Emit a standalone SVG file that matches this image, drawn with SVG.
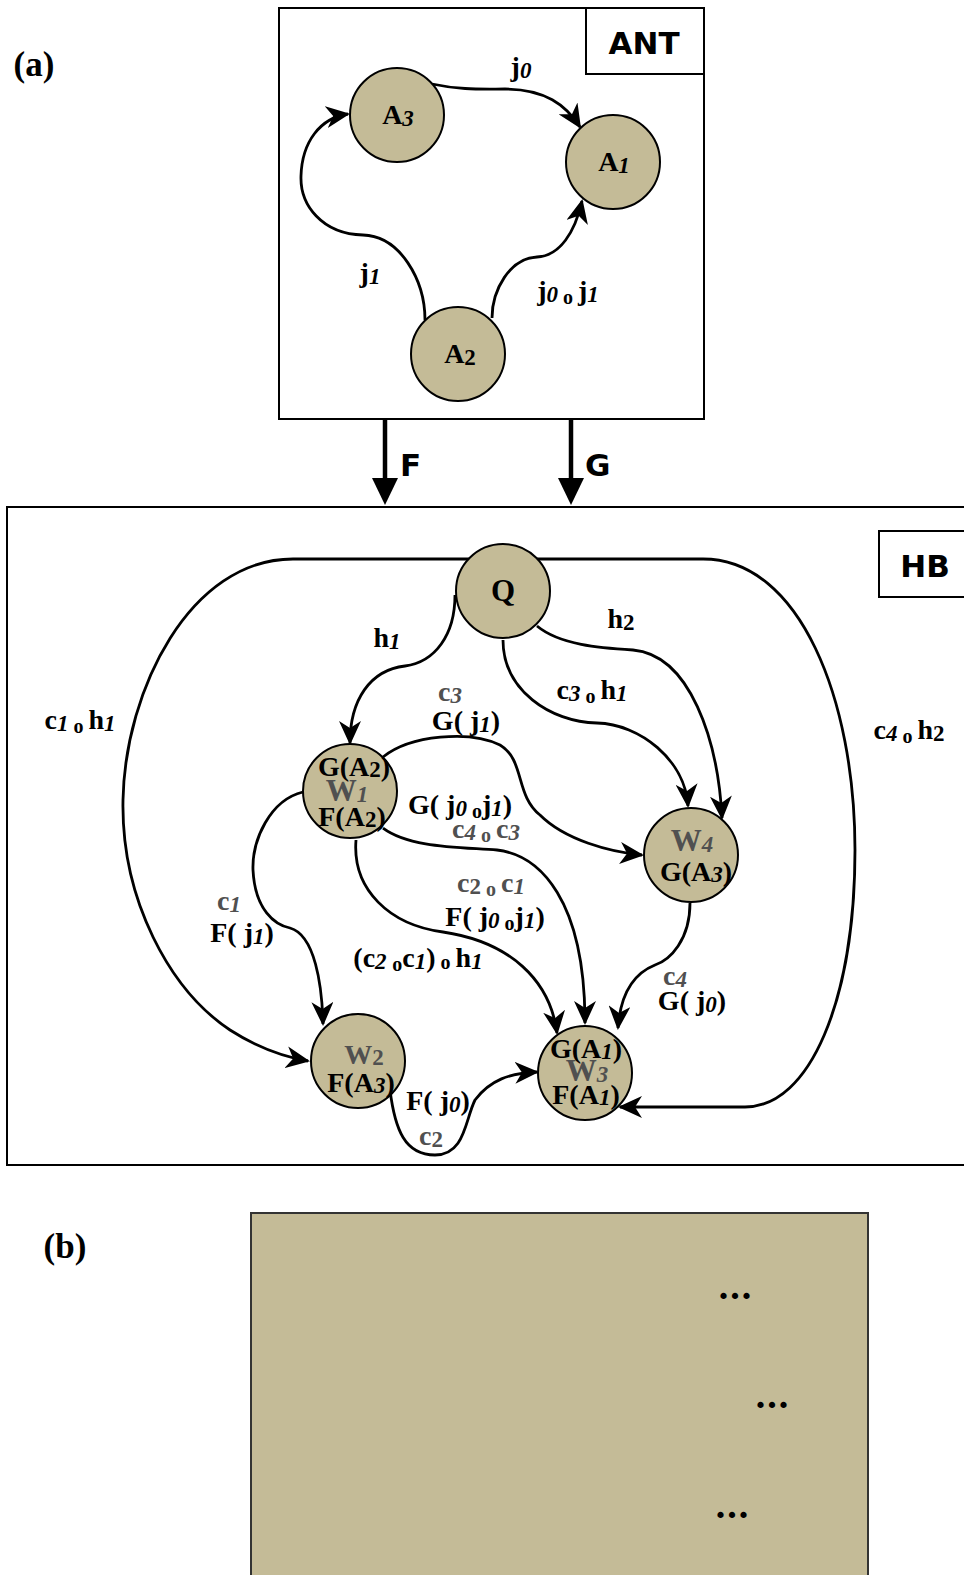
<svg xmlns="http://www.w3.org/2000/svg" width="964" height="1575" viewBox="0 0 964 1575">
<defs>
<style>
.t{font-family:"Liberation Serif",serif;font-weight:bold;font-size:28px;fill:#000}
.g{fill:#505050}
.s{font-style:italic;font-size:23px}
.u{font-size:23px}
.o{font-size:20px;font-weight:bold}
.h{font-family:"DejaVu Sans","Liberation Sans",sans-serif;font-weight:bold;font-size:31px;fill:#000}
.n{fill:#c4bb97;stroke:#000;stroke-width:2}
.w{font-size:31px}
.big{font-size:35px}
.dots{font-size:38px;letter-spacing:2px}
.e{fill:none;stroke:#000;stroke-width:2.8;marker-end:url(#ah)}
.box{fill:#fff;stroke:#000;stroke-width:2}
</style>
<marker id="ah" markerUnits="userSpaceOnUse" markerWidth="24" markerHeight="22" viewBox="0 0 24 22" refX="22" refY="11" orient="auto">
<path d="M0,0 L24,11 L0,22 L7,11 z" fill="#000"/>
</marker>
</defs>
<rect width="964" height="1575" fill="#fff"/>

<!-- panel labels -->
<text class="t big" x="34" y="76" text-anchor="middle">(a)</text>
<text class="t big" x="65" y="1258" text-anchor="middle">(b)</text>

<!-- (a) frame -->
<g id="ant-frame">
<rect class="box" x="279" y="8" width="425" height="411"/>
<rect class="box" x="586" y="8" width="118" height="66"/>
<text class="h" x="644" y="54" text-anchor="middle">ANT</text>
</g>

<!-- F G functors -->
<g id="functors">
<line x1="385" y1="419" x2="385" y2="482" stroke="#000" stroke-width="4.5"/>
<polygon points="372,478 398,478 385,505" fill="#000"/>
<text class="h" x="400" y="476">F</text>
<line x1="571" y1="419" x2="571" y2="482" stroke="#000" stroke-width="4.5"/>
<polygon points="558,478 584,478 571,505" fill="#000"/>
<text class="h" x="585" y="476">G</text>
</g>

<!-- HB frame -->
<g id="hb-frame">
<rect class="box" x="7" y="507" width="965" height="658"/>
<rect class="box" x="879" y="531" width="95" height="66"/>
<text class="h" x="925" y="577" text-anchor="middle">HB</text>
</g>

<g id="connectors">
<!-- (a) -->
<path class="e" d="M432,84 C460,90 480,89 505,89 C545,89 566,105 580,127"/>
<path class="e" d="M425,320 C425,280 400,236 363,235 C322,234 300,205 301,176 C302,142 320,118 348,114"/>
<path class="e" d="M492,318 C492,290 510,258 537,257 C560,256 575,232 582,201"/>
<!-- HB -->
<path class="e" d="M470,559 L293,559 C190,559 125,690 123,800 C121,900 170,990 230,1030 C258,1048 285,1057 308,1061"/>
<path class="e" d="M537,559 L703,559 C800,559 855,700 855,850 C855,1000 810,1107 745,1107 L620,1107"/>
<path class="e" d="M455,595 C455,635 435,662 405,666 C370,670 350,700 350,743"/>
<path class="e" d="M537,626 C560,645 600,648 633,650 C690,655 718,740 722,818"/>
<path class="e" d="M503,640 C503,690 550,722 597,723 C640,724 685,760 688,806"/>
<path class="e" d="M383,757 C410,735 470,730 500,745 C525,760 515,795 540,815 C565,840 610,852 642,855"/>
<path class="e" d="M383,828 C410,848 460,847 497,850 C540,855 585,900 585,1023"/>
<path class="e" d="M356,840 C352,890 390,925 443,932 C510,942 550,980 557,1033"/>
<path class="e" d="M303,792 C270,800 252,840 253,870 C255,910 275,925 290,928 C315,935 322,985 323,1024"/>
<path class="e" d="M390,1090 C395,1130 405,1155 435,1155 C465,1155 465,1120 475,1100 C490,1080 510,1073 537,1072"/>
<path class="e" d="M690,903 C690,940 670,960 655,965 C630,975 620,1000 618,1028"/>
</g>

<g id="edge-labels">
<text class="t" x="521" y="76" text-anchor="middle">j<tspan class="s" dy="2">0</tspan></text>
<text class="t" x="370" y="282" text-anchor="middle">j<tspan class="s" dy="2">1</tspan></text>
<text class="t" x="568" y="300" text-anchor="middle">j<tspan class="s" dy="2">0</tspan><tspan class="o" dy="2"> o </tspan><tspan dy="-4">j</tspan><tspan class="s" dy="2">1</tspan></text>

<text class="t" x="387" y="647" text-anchor="middle">h<tspan class="s" dy="2">1</tspan></text>
<text class="t" x="621" y="628" text-anchor="middle">h<tspan class="u" dy="2">2</tspan></text>
<text class="t" x="592" y="699" text-anchor="middle">c<tspan class="s" dy="2">3</tspan><tspan class="o" dy="2"> o </tspan><tspan dy="-4">h</tspan><tspan class="s" dy="2">1</tspan></text>
<text class="t" x="909" y="739" text-anchor="middle">c<tspan class="s" dy="2">4</tspan><tspan class="o" dy="2"> o </tspan><tspan dy="-4">h</tspan><tspan class="u" dy="2">2</tspan></text>
<text class="t" x="80" y="729" text-anchor="middle">c<tspan class="s" dy="2">1</tspan><tspan class="o" dy="2"> o </tspan><tspan dy="-4">h</tspan><tspan class="s" dy="2">1</tspan></text>

<text class="t g" x="450" y="701" text-anchor="middle">c<tspan class="s" dy="2">3</tspan></text>
<text class="t" x="466" y="730" text-anchor="middle">G( j<tspan class="s" dy="2">1</tspan><tspan dy="-2">)</tspan></text>
<text class="t" x="460" y="814" text-anchor="middle">G( j<tspan class="s" dy="2">0</tspan><tspan class="o" dy="2"> o</tspan><tspan dy="-4">j</tspan><tspan class="s" dy="2">1</tspan><tspan dy="-2">)</tspan></text>
<text class="t g" x="486" y="838" text-anchor="middle">c<tspan class="s" dy="2">4</tspan><tspan class="o" dy="2"> o </tspan><tspan dy="-4">c</tspan><tspan class="s" dy="2">3</tspan></text>
<text class="t g" x="491" y="892" text-anchor="middle">c<tspan class="u" dy="2">2</tspan><tspan class="o" dy="2"> o </tspan><tspan dy="-4">c</tspan><tspan class="s" dy="2">1</tspan></text>
<text class="t" x="495" y="926" text-anchor="middle">F( j<tspan class="s" dy="2">0</tspan><tspan class="o" dy="2"> o</tspan><tspan dy="-4">j</tspan><tspan class="s" dy="2">1</tspan><tspan dy="-2">)</tspan></text>
<text class="t g" x="229" y="910" text-anchor="middle">c<tspan class="s" dy="2">1</tspan></text>
<text class="t" x="242" y="942" text-anchor="middle">F( j<tspan class="s" dy="2">1</tspan><tspan dy="-2">)</tspan></text>
<text class="t" x="418" y="967" text-anchor="middle">(c<tspan class="s" dy="2">2 </tspan><tspan class="o" dy="2"> o</tspan><tspan dy="-4">c</tspan><tspan class="s" dy="2">1</tspan><tspan dy="-2">)</tspan><tspan class="o" dy="2"> o </tspan><tspan dy="-2">h</tspan><tspan class="s" dy="2">1</tspan></text>
<text class="t" x="438" y="1110" text-anchor="middle">F( j<tspan class="s" dy="2">0</tspan><tspan dy="-2">)</tspan></text>
<text class="t g" x="431" y="1145" text-anchor="middle">c<tspan class="u" dy="2">2</tspan></text>
<text class="t g" x="675" y="985" text-anchor="middle">c<tspan class="s" dy="2">4</tspan></text>
<text class="t" x="692" y="1010" text-anchor="middle">G( j<tspan class="s" dy="2">0</tspan><tspan dy="-2">)</tspan></text>
</g>

<!-- (a) nodes -->
<g id="A3"><circle class="n" cx="397" cy="115" r="47"/><text class="t" x="398" y="124" text-anchor="middle">A<tspan class="s" dy="2">3</tspan></text></g>
<g id="A1"><circle class="n" cx="613" cy="162" r="47"/><text class="t" x="614" y="171" text-anchor="middle">A<tspan class="s" dy="2">1</tspan></text></g>
<g id="A2"><circle class="n" cx="458" cy="354" r="47"/><text class="t" x="460" y="363" text-anchor="middle">A<tspan class="u" dy="2">2</tspan></text></g>

<!-- HB nodes -->
<g id="Q"><circle class="n" cx="503" cy="591" r="47"/><text class="t w" x="503" y="601" text-anchor="middle">Q</text></g>
<g id="W1"><circle class="n" cx="350" cy="791" r="47"/>
<text class="t" x="354" y="776" text-anchor="middle">G(A<tspan class="u" dy="1">2</tspan><tspan dy="-1">)</tspan></text>
<text class="t g w" x="347" y="801" text-anchor="middle">W<tspan class="s" dy="1">1</tspan></text>
<text class="t" x="352" y="826" text-anchor="middle">F(A<tspan class="u" dy="1">2</tspan><tspan dy="-1">)</tspan></text>
</g>
<g id="W2"><circle class="n" cx="358" cy="1061" r="47"/>
<text class="t g" x="364" y="1064" text-anchor="middle">W<tspan class="u" dy="1">2</tspan></text>
<text class="t" x="361" y="1092" text-anchor="middle">F(A<tspan class="s" dy="1">3</tspan><tspan dy="-1">)</tspan></text>
</g>
<g id="W3"><circle class="n" cx="585" cy="1073" r="47"/>
<text class="t" x="586" y="1058" text-anchor="middle">G(A<tspan class="s" dy="1">1</tspan><tspan dy="-1">)</tspan></text>
<text class="t g w" x="587" y="1081" text-anchor="middle">W<tspan class="s" dy="1">3</tspan></text>
<text class="t" x="586" y="1104" text-anchor="middle">F(A<tspan class="s" dy="1">1</tspan><tspan dy="-1">)</tspan></text>
</g>
<g id="W4"><circle class="n" cx="691" cy="855" r="47"/>
<text class="t g w" x="692" y="851" text-anchor="middle">W<tspan class="s" dy="1">4</tspan></text>
<text class="t" x="696" y="881" text-anchor="middle">G(A<tspan class="s" dy="1">3</tspan><tspan dy="-1">)</tspan></text>
</g>

<!-- (b) -->
<g id="panel-b">
<rect x="251" y="1213" width="617" height="400" fill="#c4bb97" stroke="#333" stroke-width="2"/>
<text class="t dots" x="736" y="1299" text-anchor="middle">...</text>
<text class="t dots" x="773" y="1408" text-anchor="middle">...</text>
<text class="t dots" x="733" y="1518" text-anchor="middle">...</text>
</g>
</svg>
